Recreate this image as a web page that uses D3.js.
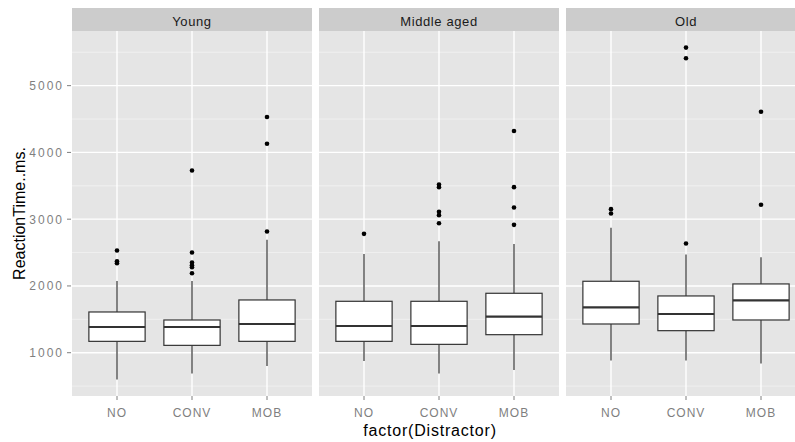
<!DOCTYPE html>
<html>
<head>
<meta charset="utf-8">
<script src="https://cdn.jsdelivr.net/npm/d3@7/dist/d3.min.js"></script>
<style>
  body { margin: 0; background: #fff; }
  svg { display: block; font-family: "Liberation Sans", Arial, sans-serif; }
</style>
</head>
<body>
<svg id="chart"></svg>
<script>
// facets and categories
const ageGroups = ['Young', 'Middle aged', 'Old'];
const distractors = ['NO', 'CONV', 'MOB'];
const yTicks = [1000, 2000, 3000, 4000, 5000];
const yMinorTicks = [500, 1500, 2500, 3500, 4500, 5500];

// box stats per distractor: [lower whisker, q1, median, q3, upper whisker]
const youngStats = [[600, 1170, 1385, 1610, 2075], [690, 1110, 1385, 1490, 2075], [800, 1170, 1430, 1790, 2690]];
const middleStats = [[875, 1170, 1400, 1770, 2480], [690, 1125, 1400, 1770, 2670], [740, 1270, 1540, 1890, 2630]];
const oldStats = [[885, 1430, 1680, 2070, 2870], [885, 1330, 1580, 1850, 2470], [840, 1490, 1785, 2030, 2430]];

// outlying points per distractor
const youngOutliers = [[2530, 2370, 2340], [3730, 2500, 2350, 2310, 2280, 2190], [4530, 4130, 2815]];
const middleOutliers = [[2780], [3520, 3480, 3110, 3060, 2940], [4320, 3480, 3175, 2915]];
const oldOutliers = [[3150, 3085], [5570, 5410, 2635], [4610, 3215]];

const statsByGroup = [youngStats, middleStats, oldStats];
const outliersByGroup = [youngOutliers, middleOutliers, oldOutliers];

const width = 795, height = 442;
const margin = { left: 72, top: 31 };
const panelW = 240, panelH = 365, gap = 7, stripH = 23;

const svg = d3.select('#chart').attr('width', width).attr('height', height);

// shared y scale with ggplot-style 5% expansion
const allVals = statsByGroup.flat(2).concat(outliersByGroup.flat(2));
const yMin = d3.min(allVals), yMax = d3.max(allVals);
const pad = (yMax - yMin) * 0.05;
const y = d3.scaleLinear().domain([yMin - pad, yMax + pad]).range([panelH, 0]);

const x = d3.scalePoint().domain(distractors).range([0, panelW]).padding(0.6);
const boxW = x.step() * 0.75;

ageGroups.forEach((group, gi) => {
    const g = svg.append('g')
        .attr('transform', `translate(${margin.left + gi * (panelW + gap)},${margin.top})`);

    g.append('rect')
        .attr('width', panelW).attr('height', panelH)
        .attr('fill', '#e5e5e5');

    // minor grid
    g.selectAll('.minor')
        .data(yMinorTicks.filter(v => v >= y.domain()[0] && v <= y.domain()[1]))
        .join('line')
        .attr('x1', 0).attr('x2', panelW)
        .attr('y1', d => y(d)).attr('y2', d => y(d))
        .attr('stroke', '#f2f2f2').attr('stroke-width', 0.8);

    // major grid
    g.selectAll('.major-y')
        .data(yTicks)
        .join('line')
        .attr('x1', 0).attr('x2', panelW)
        .attr('y1', d => y(d)).attr('y2', d => y(d))
        .attr('stroke', '#ffffff').attr('stroke-width', 1.4);

    g.selectAll('.major-x')
        .data(distractors)
        .join('line')
        .attr('x1', d => x(d)).attr('x2', d => x(d))
        .attr('y1', 0).attr('y2', panelH)
        .attr('stroke', '#ffffff').attr('stroke-width', 1.4);

    const stats = statsByGroup[gi];
    const outs = outliersByGroup[gi];

    distractors.forEach((dist, di) => {
        const [lo, q1, med, q3, hi] = stats[di];
        const cx = x(dist);

        g.append('line')
            .attr('x1', cx).attr('x2', cx)
            .attr('y1', y(hi)).attr('y2', y(q3))
            .attr('stroke', '#333').attr('stroke-width', 1.2);
        g.append('line')
            .attr('x1', cx).attr('x2', cx)
            .attr('y1', y(q1)).attr('y2', y(lo))
            .attr('stroke', '#333').attr('stroke-width', 1.2);

        g.append('rect')
            .attr('x', cx - boxW / 2).attr('width', boxW)
            .attr('y', y(q3)).attr('height', y(q1) - y(q3))
            .attr('fill', '#fff')
            .attr('stroke', '#333').attr('stroke-width', 1.2);

        g.append('line')
            .attr('x1', cx - boxW / 2).attr('x2', cx + boxW / 2)
            .attr('y1', y(med)).attr('y2', y(med))
            .attr('stroke', '#333').attr('stroke-width', 2.2);

        g.selectAll(null)
            .data(outs[di])
            .join('circle')
            .attr('cx', cx).attr('cy', d => y(d))
            .attr('r', 2.3)
            .attr('fill', '#000');
    });

    // strip
    g.append('rect')
        .attr('y', -stripH).attr('width', panelW).attr('height', stripH)
        .attr('fill', '#cccccc');
    g.append('text')
        .attr('x', panelW / 2).attr('y', -5)
        .attr('text-anchor', 'middle')
        .attr('font-size', '13px')
        .attr('letter-spacing', '0.6px')
        .attr('fill', '#1a1a1a')
        .text(group);

    // x ticks
    g.selectAll('.xtick')
        .data(distractors)
        .join('line')
        .attr('x1', d => x(d)).attr('x2', d => x(d))
        .attr('y1', panelH).attr('y2', panelH + 4)
        .attr('stroke', '#7f7f7f');
    g.selectAll('.xlabel')
        .data(distractors)
        .join('text')
        .attr('x', d => x(d)).attr('y', panelH + 21)
        .attr('text-anchor', 'middle')
        .attr('font-size', '12px')
        .attr('letter-spacing', '1px')
        .attr('fill', '#7f7f7f')
        .text(d => d);
});

// y axis
const ya = svg.append('g').attr('transform', `translate(${margin.left},${margin.top})`);
ya.selectAll('line')
    .data(yTicks)
    .join('line')
    .attr('x1', -5).attr('x2', -1)
    .attr('y1', d => y(d)).attr('y2', d => y(d))
    .attr('stroke', '#7f7f7f');
ya.selectAll('text')
    .data(yTicks)
    .join('text')
    .attr('x', -8).attr('y', d => y(d) + 4.5)
    .attr('text-anchor', 'end')
    .attr('font-size', '12px')
    .attr('letter-spacing', '2px')
    .attr('fill', '#7f7f7f')
    .text(d => d);

// axis titles
svg.append('text')
    .attr('x', 430).attr('y', 436)
    .attr('text-anchor', 'middle')
    .attr('font-size', '16px')
    .attr('letter-spacing', '0.8px')
    .attr('fill', '#000')
    .text('factor(Distractor)');

svg.append('text')
    .attr('transform', `translate(25,${margin.top + panelH / 2}) rotate(-90)`)
    .attr('text-anchor', 'middle')
    .attr('font-size', '16px')
    .attr('fill', '#000')
    .text('ReactionTime..ms.');
</script>
</body>
</html>
